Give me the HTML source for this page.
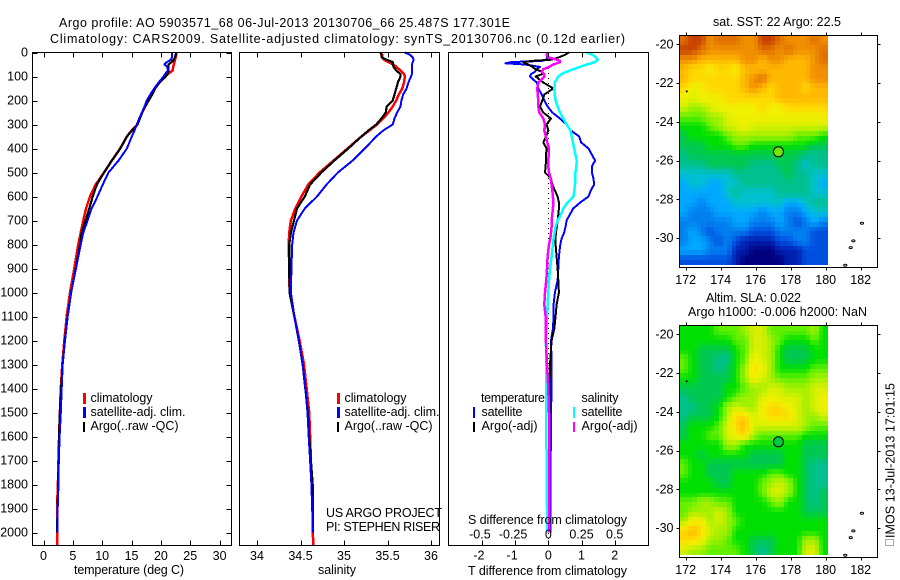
<!DOCTYPE html>
<html>
<head>
<meta charset="utf-8">
<title>Argo profile</title>
<style>
html,body{margin:0;padding:0;background:#fff;width:900px;height:580px;overflow:hidden}
svg{display:block}
text{font-family:"Liberation Sans",sans-serif;font-size:12.5px;fill:#000}
</style>
</head>
<body>
<svg id="chart" width="900" height="580" viewBox="0 0 900 580" xmlns="http://www.w3.org/2000/svg">
<rect width="900" height="580" fill="#fff"/>
<g id="layer"></g>
<g>
<text x="59" y="27" textLength="451">Argo profile: AO 5903571_68 06-Jul-2013 20130706_66 25.487S 177.301E</text>
<text x="50" y="43" textLength="575">Climatology: CARS2009. Satellite-adjusted climatology: synTS_20130706.nc (0.12d earlier)</text>
<text x="74" y="574" textLength="110">temperature (deg C)</text>
<text x="318" y="574" textLength="38">salinity</text>
<text x="468" y="575" textLength="159">T difference from climatology</text>
<text x="468" y="524" textLength="159">S difference from climatology</text>
<text x="326" y="517" textLength="116">US ARGO PROJECT</text>
<text x="326" y="531" textLength="114">PI: STEPHEN RISER</text>
<text x="713" y="26" textLength="128">sat. SST: 22 Argo: 22.5</text>
<text x="706" y="302" textLength="95">Altim. SLA: 0.022</text>
<text x="688" y="316" textLength="179">Argo h1000: -0.006 h2000: NaN</text>
<text transform="translate(894.5,538) rotate(-90)" x="0" y="0" textLength="155">IMOS 13-Jul-2013 17:01:15</text>
<rect x="885.5" y="539.5" width="8" height="6" fill="none" stroke="#555" stroke-dasharray="1 1"/>
</g>
<g>
<rect x="83" y="393" width="3" height="11" fill="#ff0000"/>
<rect x="83" y="407" width="3" height="11" fill="#0000ff"/>
<rect x="83" y="422" width="2" height="10" fill="#000"/>
<text x="90.5" y="402" textLength="62">climatology</text>
<text x="90.5" y="416" textLength="95">satellite-adj. clim.</text>
<text x="90.5" y="430" textLength="88">Argo(..raw -QC)</text>
</g>
<g>
<rect x="337" y="393" width="3" height="11" fill="#ff0000"/>
<rect x="337" y="407" width="3" height="11" fill="#0000ff"/>
<rect x="337" y="422" width="2" height="10" fill="#000"/>
<text x="344.5" y="402" textLength="62">climatology</text>
<text x="344.5" y="416" textLength="95">satellite-adj. clim.</text>
<text x="344.5" y="430" textLength="88">Argo(..raw -QC)</text>
</g>
<g>
<text x="481" y="402" textLength="64">temperature</text>
<text x="581.5" y="402" textLength="37">salinity</text>
<rect x="473" y="407" width="2" height="11" fill="#0000ff"/>
<rect x="473" y="422" width="2" height="10" fill="#000"/>
<rect x="573" y="407" width="2" height="11" fill="#00ffff"/>
<rect x="573" y="422" width="2" height="10" fill="#ff00ff"/>
<text x="481.5" y="416" textLength="41">satellite</text>
<text x="481.5" y="430" textLength="56">Argo(-adj)</text>
<text x="581.5" y="416" textLength="41">satellite</text>
<text x="581.5" y="430" textLength="56">Argo(-adj)</text>
</g>
</svg>
<script>
// ---- profile data (depth in m) ----
const profileDepths = [0,10,20,30,40,50,60,75,90,100,125,150,175,200,225,250,275,300,325,350,400,450,500,550,600,650,700,750,800,900,1000,1100,1200,1300,1400,1500,1600,1700,1800,1900,2000,2056];
const tempClim = [22.6,22.6,22.5,22.4,22.3,22.2,22.1,22.0,21.2,20.7,19.7,19,18.5,17.9,17.3,16.8,16.4,16,15,14.2,13.07,11.65,10.3,8.9,7.92,7.24,6.78,6.33,5.93,5.25,4.51,3.95,3.55,3.2,2.95,2.8,2.65,2.55,2.45,2.3,2.3,2.3];
const tempArgo = [22.6,22.5,22.4,22.2,21.8,21.3,21.3,21.3,21.1,20.8,19.8,19,18.5,17.9,17.3,16.8,16.4,16,15.1,14.2,13.07,11.65,10.3,9.1,8.38,7.8,7.18,6.5,6.22,5.5,4.7,4.1,3.65,3.25,3.0,2.8,2.65,2.55,2.5,2.4,2.3];
const tempSat = [21.9,21.9,21.9,21.7,21,20.6,21.1,21.2,20.7,20.45,19.6,18.86,18.2,17.6,17.2,16.76,16.3,15.9,15.5,15.05,14.2,12.8,11.07,10.1,9.2,8.2,7.52,6.78,6.34,5.54,4.68,4.12,3.66,3.27,3.1,2.95,2.75,2.6,2.55,2.4,2.35];
const salClim = [35.42,35.44,35.44,35.46,35.51,35.57,35.6,35.65,35.69,35.7,35.69,35.67,35.63,35.6,35.56,35.51,35.45,35.38,35.29,35.2,35.04,34.88,34.72,34.59,34.51,34.44,34.39,34.37,34.365,34.37,34.375,34.43,34.49,34.54,34.57,34.6,34.61,34.62,34.63,34.64,34.64,34.65];
const salArgo = [35.42,35.43,35.43,35.49,35.56,35.56,35.57,35.6,35.65,35.65,35.62,35.6,35.58,35.56,35.49,35.48,35.43,35.37,35.28,35.2,35.05,34.89,34.74,34.61,34.55,34.46,34.425,34.39,34.37,34.37,34.375,34.43,34.48,34.525,34.555,34.585,34.6,34.62,34.64,34.64,34.64];
const salSat = [35.7,35.76,35.79,35.8,35.79,35.78,35.78,35.78,35.78,35.77,35.74,35.72,35.68,35.66,35.65,35.61,35.58,35.56,35.45,35.37,35.24,35.1,34.93,34.8,34.69,34.55,34.46,34.42,34.405,34.395,34.39,34.43,34.48,34.525,34.555,34.58,34.594,34.61,34.625,34.635,34.64];
const diffDepths = [0,10,20,30,35,40,45,50,60,70,80,90,100,125,150,175,200,225,250,275,300,325,350,375,400,425,450,475,500,525,550,575,600,625,650,675,700,725,750,775,800,850,900,950,1000,1050,1100,1150,1200,1300,1400,1500,1600,1700,1800,1900,2000];
const diffTempSat = [-.02,-.03,-.04,-.05,-.2,-1.11,-1.29,-.7,-.25,-.35,-.4,-.52,-.55,-.35,-.3,-.2,-.12,-.02,.12,.35,.55,.68,.93,.99,1.21,1.31,1.41,1.31,1.31,1.36,1.38,1.28,1.21,.96,.75,.65,.55,.52,.48,.4,.36,.32,.3,.28,.2,.16,.16,.14,.08,.1,.1,.08,.08,.07,.06,.06,.06];
const diffTempArgo = [.62,.5,.32,.1,-.5,-.75,-.7,-.6,-.48,-.38,-.2,-.18,-.38,-.15,.15,-.12,-.18,-.25,-.15,.08,-.05,0,-.07,-.15,-.05,-.07,-.07,-.08,-.1,.08,.12,.2,.28,.32,.32,.3,.28,.26,.23,.22,.22,.25,.28,.3,.32,.25,.22,.18,.1,.05,.04,.04,.03,.03,.03,.02,.02];
const diffSalSat = [.289,.335,.357,.372,.365,.347,.327,.289,.239,.189,.138,.101,.075,.05,.045,.048,.055,.07,.088,.113,.138,.169,.176,.186,.194,.204,.214,.211,.204,.201,.201,.196,.189,.146,.113,.096,.07,.055,.048,.04,.035,.025,.013,.005,0,-.005,-.01,-.013,-.018,-.015,-.015,-.015,-.015,-.012,-.012,-.01,-.01];
const diffSalArgo = [-.005,-.013,0,.063,.088,.088,.063,.038,.005,-.038,-.05,-.03,-.03,-.075,-.083,-.08,-.075,-.075,-.068,-.038,-.025,-.03,-.018,-.008,.005,.003,0,0,.005,.018,.025,.03,.035,.038,.035,.03,.025,.025,.02,.015,.005,-.005,-.01,-.015,-.025,-.03,-.02,-.018,-.018,-.01,0,.005,.008,.008,.008,.008,.008];
// ---- axis ticks ----
const depthTicks = [0,100,200,300,400,500,600,700,800,900,1000,1100,1200,1300,1400,1500,1600,1700,1800,1900,2000];
const tempTicks = [0,5,10,15,20,25,30];
const salTicks = [34,34.5,35,35.5,36];
const diffTTicks = [-2,-1,0,1,2];
const diffSTicks = [-0.5,-0.25,0,0.25,0.5];
const lonTicks = [172,174,176,178,180,182];
const latTicks = [20,22,24,26,28,30];
// ---- map data: colour-level grids, rows from 19.5S southward, 0.5 degree spacing ----
const colorStops = ['#00007f','#0020b0','#0050e0','#0080f0','#00a8ff','#00c0d0','#00c090','#00c850','#00e000','#60f000','#a0f000','#d8f000','#f0f000','#ffd800','#ffb800','#f09000','#e07000','#c84000'];
const sstGrid = [
[16,17,17,15,16,16,16,15,15,17,17,16,15,15,15,16,15],
[17,17,16,15,15,15,15,15,15,16,16,15,16,15,15,15,16],
[15,15,14,14,14,14,14,15,15,14,15,15,14,14,14,15,16],
[14,13,13,12,13,13,12,14,14,14,14,14,14,14,14,15,15],
[14,13,13,13,13,13,13,14,15,16,14,14,14,14,14,15,15],
[13,12,12,13,13,13,13,14,15,14,13,14,14,14,13,14,14],
[12,11,12,12,12,13,13,13,13,13,13,14,14,14,14,14,14],
[11,10,10,11,12,12,12,12,12,13,12,12,13,13,13,13,13],
[9,9,9,10,10,11,12,12,12,12,12,12,12,12,12,12,12],
[8,8,8,9,10,11,11,12,11,11,11,11,11,11,11,11,11],
[7,8,8,8,8,9,10,10,10,10,10,10,10,9,9,9,8],
[7,7,7,8,8,8,9,9,8,8,8,8,8,8,8,7,7],
[6,7,7,7,7,7,7,7,7,7,7,7,7,7,6,6,6],
[6,6,6,7,7,7,7,7,6,6,6,7,7,6,5,6,6],
[5,5,5,5,5,5,6,6,6,6,6,6,7,6,6,5,5],
[4,5,5,4,4,5,5,6,6,6,6,6,6,6,6,5,4],
[4,4,4,4,4,5,6,5,5,5,5,6,6,6,6,5,5],
[4,4,3,4,4,4,5,5,5,5,5,5,4,4,5,6,6],
[4,3,3,3,4,4,4,4,4,3,4,4,3,3,4,5,5],
[3,3,3,3,3,3,4,4,3,3,3,4,3,2,3,4,3],
[3,4,3,2,3,3,3,3,2,2,2,3,3,3,3,2,2],
[3,4,4,3,2,3,2,1,1,1,1,2,2,3,3,2,2],
[4,4,4,3,3,3,1,1,0,0,0,1,1,1,2,2,2],
[2,2,2,2,2,2,1,0,0,0,0,0,1,1,2,2,2]];
const slaGrid = [
[8,8,8,8,9,9,9,10,11,11,9,9,9,9,9,10,8],
[8,8,8,8,8,8,9,9,11,11,10,9,8,8,8,9,8],
[8,8,7,7,7,7,8,9,11,11,10,8,7,7,7,8,8],
[9,8,7,7,6,6,8,9,12,11,10,8,7,7,7,8,8],
[9,8,7,7,6,7,8,10,13,12,10,8,8,8,8,9,9],
[8,8,7,7,7,7,8,10,12,11,10,9,9,9,9,10,10],
[7,7,7,7,7,8,8,9,10,10,11,11,10,10,10,11,11],
[6,7,7,7,7,8,9,10,10,11,12,11,11,11,10,11,12],
[6,6,7,7,8,10,11,10,10,12,13,13,12,11,10,11,12],
[6,7,7,7,8,10,13,13,11,12,13,13,13,11,10,10,11],
[7,8,8,8,9,11,13,14,11,11,11,11,11,11,10,9,9],
[7,8,8,9,9,11,12,13,10,9,9,9,9,9,8,8,8],
[8,8,8,8,8,10,10,8,8,8,8,8,8,8,7,7,7],
[8,8,7,8,8,8,8,8,7,7,7,7,8,8,7,7,7],
[9,8,8,7,7,7,7,7,7,7,7,7,8,8,7,6,6],
[9,8,8,7,7,7,8,8,8,8,9,9,8,8,7,6,6],
[8,8,8,8,7,7,8,8,8,9,10,11,10,8,7,6,6],
[8,8,8,8,8,8,8,8,8,9,11,11,10,8,7,6,7],
[9,9,10,10,9,9,8,8,8,8,9,10,8,8,7,6,7],
[9,10,10,10,11,10,8,8,8,8,8,8,8,8,7,7,7],
[10,12,12,10,11,10,9,8,8,8,8,8,8,8,8,8,8],
[13,14,13,11,10,10,8,8,8,8,8,8,8,8,8,8,8],
[13,13,12,10,10,9,8,8,7,7,7,8,8,8,10,10,8],
[11,10,10,9,9,9,9,8,7,6,7,8,8,8,11,11,8]];
const floatLon = 177.3;
const floatLat = 25.55;
const islandLon = [182.07,181.58,181.43,181.12,172.06];
const islandLat = [29.24,30.15,30.5,31.41,22.43];

const SVGNS = 'http://www.w3.org/2000/svg';
const layer = document.getElementById('layer');
function make(tag, attrs, parent) {
  const el = document.createElementNS(SVGNS, tag);
  for (const k in attrs) el.setAttribute(k, attrs[k]);
  (parent || layer).appendChild(el);
  return el;
}
const yDepth = d => 52.5 + 0.24 * d;
const xTemp = t => 43.5 + 5.87 * t;
const xSal = s => 257 + 87 * (s - 34);
const xDiffT = t => 548.3 + 33.2 * t;
const xDiffS = s => 548.3 + 132.8 * s;
const xLon = lon => 685.7 + 17.5 * (lon - 172);

function drawLine(name, values, depths, xf, color, width) {
  const n = Math.min(values.length, depths.length);
  const pts = [];
  for (let i = 0; i < n; i++) pts.push(xf(values[i]).toFixed(1) + ',' + yDepth(depths[i]).toFixed(1));
  const el = make('polyline', { points: pts.join(' '), fill: 'none', stroke: color, 'stroke-width': width, 'shape-rendering': 'crispEdges', 'stroke-linejoin': 'round' });
  
  
}
function drawFrame(name, l, t, r, b) {
  const el = make('rect', { x: l, y: t, width: r - l, height: b - t, fill: 'none', stroke: '#000', 'stroke-width': 1, 'shape-rendering': 'crispEdges' });
  
  
}
function drawTick(x1, y1, x2, y2) {
  const el = make('line', { x1: x1, y1: y1, x2: x2, y2: y2, stroke: '#000', 'stroke-width': 1, 'shape-rendering': 'crispEdges' });
  
  
}
function drawLabel(name, str, x, y, anchor) {
  const el = make('text', { x: x, y: y, 'text-anchor': anchor });
  el.textContent = str;
  
  
}

// temperature panel
drawLine('temperature-climatology-line', tempClim, profileDepths, xTemp, '#ff0000', 2.5);
drawLine('temperature-argo-line', tempArgo, profileDepths, xTemp, '#000000', 2.2);
drawLine('temperature-satellite-line', tempSat, profileDepths, xTemp, '#0000ff', 2);
drawFrame('temperature-panel-frame', 32.5, 52.5, 231.5, 545.5);
depthTicks.forEach(d => {
  drawTick(32.5, Math.round(yDepth(d)) + .5, 37.5, Math.round(yDepth(d)) + .5);
  drawTick(226.5, Math.round(yDepth(d)) + .5, 231.5, Math.round(yDepth(d)) + .5);
  drawLabel('depth-tick-label', String(d), 28, yDepth(d) + 4, 'end');
});
tempTicks.forEach(t => {
  const x = Math.round(xTemp(t)) + .5;
  drawTick(x, 52.5, x, 57.5);
  drawTick(x, 540.5, x, 545.5);
  drawLabel('temperature-tick-label', String(t), xTemp(t), 560, 'middle');
});
// salinity panel
drawLine('salinity-climatology-line', salClim, profileDepths, xSal, '#ff0000', 2.5);
drawLine('salinity-argo-line', salArgo, profileDepths, xSal, '#000000', 2.2);
drawLine('salinity-satellite-line', salSat, profileDepths, xSal, '#0000ff', 2);
drawFrame('salinity-panel-frame', 239.5, 52.5, 439.5, 545.5);
salTicks.forEach(s => {
  const x = Math.round(xSal(s)) + .5;
  drawTick(x, 52.5, x, 57.5);
  drawTick(x, 540.5, x, 545.5);
  drawLabel('salinity-tick-label', String(s), xSal(s), 560, 'middle');
});
// difference panel
const zero = make('line', { x1: xDiffT(0), y1: 68, x2: xDiffT(0), y2: 540, stroke: '#000', 'stroke-width': 1, 'stroke-dasharray': '1 4', 'shape-rendering': 'crispEdges' });


drawLine('t-difference-satellite-line', diffTempSat, diffDepths, xDiffT, '#0000ff', 2);
drawLine('t-difference-argo-line', diffTempArgo, diffDepths, xDiffT, '#000000', 2);
drawLine('s-difference-satellite-line', diffSalSat, diffDepths, xDiffS, '#00ffff', 2.5);
drawLine('s-difference-argo-line', diffSalArgo, diffDepths, xDiffS, '#ff00ff', 2.5);
drawFrame('difference-panel-frame', 448.5, 52.5, 648.5, 545.5);
diffTTicks.forEach(t => {
  const x = Math.round(xDiffT(t)) + .5;
  drawTick(x, 52.5, x, 57.5);
  drawTick(x, 540.5, x, 545.5);
  drawLabel('t-difference-tick-label', String(t), xDiffT(t) - (t < 0 ? 3 : 0), 559.5, 'middle');
});
diffSTicks.forEach(s => {
  drawLabel('s-difference-tick-label', String(s), xDiffS(s) - (s < 0 ? 2 : 0), 538.5, 'middle');
});

// colour lookup for a continuous level
function levelColor(v) {
  const i = Math.max(0, Math.min(colorStops.length - 2, Math.floor(v)));
  const f = Math.max(0, Math.min(1, v - i));
  const a = parseInt(colorStops[i].slice(1), 16);
  const b = parseInt(colorStops[i + 1].slice(1), 16);
  const mix = sh => Math.round(((a >> sh) & 255) * (1 - f) + ((b >> sh) & 255) * f);
  return 'rgb(' + mix(16) + ',' + mix(8) + ',' + mix(0) + ')';
}
// the grid is displayed on a quarter-degree raster with bilinear shading
function sampleGrid(grid, r, c) {
  const v = Math.max(0, Math.min(grid.length - 1, (r + .5) / 2 - .5));
  const u = Math.max(0, Math.min(grid[0].length - 1, (c + .5) / 2 - .5));
  const r0 = Math.floor(v), c0 = Math.floor(u);
  const r1 = Math.min(grid.length - 1, r0 + 1), c1 = Math.min(grid[0].length - 1, c0 + 1);
  const fv = v - r0, fu = u - c0;
  return (grid[r0][c0] * (1 - fu) + grid[r0][c1] * fu) * (1 - fv) + (grid[r1][c0] * (1 - fu) + grid[r1][c1] * fu) * fv;
}
// maps
function drawMap(name, grid, top, dotColor) {
  const yLat = lat => top + 8.8 + 19.37 * (lat - 20);
  const g = make('g', {});
  
  
  const lon0 = 171.64, dLon = 0.4985 / 2, lat0 = 19.56, dLat = 0.4925 / 2;
  const rows = grid.length * 2, cols = grid[0].length * 2;
  for (let r = 0; r < rows; r++) {
    for (let c = 0; c < cols; c++) {
      const x0 = Math.round(xLon(lon0 + c * dLon));
      const x1 = Math.round(xLon(lon0 + (c + 1) * dLon));
      const y0 = Math.round(yLat(lat0 + r * dLat));
      const y1 = Math.round(yLat(lat0 + (r + 1) * dLat));
      const cell = make('rect', { x: x0, y: y0, width: x1 - x0, height: y1 - y0, fill: levelColor(sampleGrid(grid, r, c)), 'shape-rendering': 'crispEdges' }, g);
      
      
    }
  }
  const bottom = top + 232;
  drawFrame(name + '-frame', 679.5, top, 877.5, bottom);
  lonTicks.forEach(lon => {
    const x = Math.round(xLon(lon)) + .5;
    drawTick(x, top - 3, x, top);
    drawTick(x, bottom, x, bottom + 3);
    drawLabel('longitude-tick-label', String(lon), xLon(lon), bottom + 16.5, 'middle');
  });
  latTicks.forEach(lat => {
    const y = Math.round(yLat(lat)) + .5;
    drawTick(676.5, y, 679.5, y);
    drawTick(877.5, y, 880.5, y);
    drawLabel('latitude-tick-label', '-' + lat, 673.5, yLat(lat) + 4, 'end');
  });
  islandLon.forEach((lon, i) => {
    const isl = make('ellipse', { cx: xLon(lon), cy: yLat(islandLat[i]), rx: i === 4 ? .5 : 1.6, ry: i === 4 ? .5 : 1, fill: 'none', stroke: '#000', 'stroke-width': 1 });
    
    
  });
  const dot = make('circle', { cx: xLon(floatLon), cy: yLat(floatLat), r: 5, fill: dotColor, stroke: '#000', 'stroke-width': 1 });
  
  
}
drawMap('sst-map', sstGrid, 35.5, '#70e800');
drawMap('sla-map', slaGrid, 325.5, '#00c840');
</script>
</body>
</html>
